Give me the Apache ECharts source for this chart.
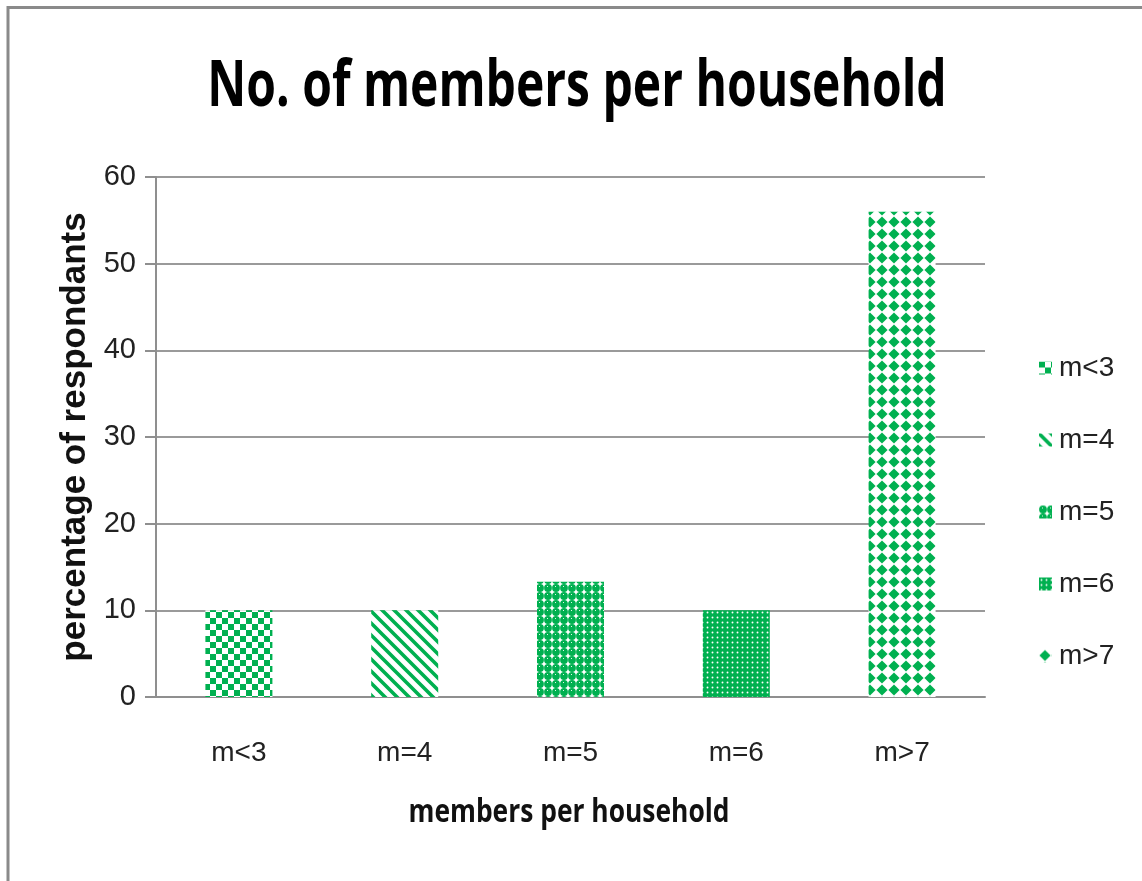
<!DOCTYPE html>
<html>
<head>
<meta charset="utf-8">
<title>No. of members per household</title>
<script src="https://cdn.jsdelivr.net/npm/echarts@6/dist/echarts.min.js"></script>
<style>
  html, body { margin: 0; padding: 0; background: #ffffff; }
  #chart { width: 1142px; height: 881px; }
</style>
</head>
<body>
<div id="chart"></div>
<script>
// Household size groups and share of respondents (%)
const categories = ['m<3', 'm=4', 'm=5', 'm=6', 'm>7'];
const percentages = [10, 10, 13.3, 10, 56];
const yTicks = { min: 0, max: 60, interval: 10 };

const GREEN = '#00b050';

// Small repeating tiles used as bar fills
function tile(size, draw) {
  const c = document.createElement('canvas');
  c.width = size; c.height = size;
  const ctx = c.getContext('2d');
  ctx.fillStyle = '#ffffff';
  ctx.fillRect(0, 0, size, size);
  ctx.fillStyle = GREEN;
  ctx.strokeStyle = GREEN;
  draw(ctx, size);
  return { image: c, repeat: 'repeat' };
}

const patterns = [
  // checkerboard
  tile(12, (ctx) => {
    ctx.fillRect(0, 0, 6, 6);
    ctx.fillRect(6, 6, 6, 6);
  }),
  // wide downward diagonal
  tile(12, (ctx, s) => {
    ctx.lineWidth = 3.6;
    ctx.beginPath();
    ctx.moveTo(-2, -2); ctx.lineTo(s + 2, s + 2);
    ctx.moveTo(-2, s - 2); ctx.lineTo(2, s + 2);
    ctx.moveTo(s - 2, -2); ctx.lineTo(s + 2, 2);
    ctx.stroke();
  }),
  // beads
  tile(8, (ctx) => {
    ctx.beginPath();
    ctx.arc(4, 4, 3.9, 0, Math.PI * 2);
    ctx.fill();
    ctx.fillStyle = '#dff5e8';
    ctx.fillRect(3, 2, 1, 1);
  }),
  // solid with small dots
  tile(5, (ctx) => {
    ctx.fillRect(0, 0, 5, 5);
    ctx.fillStyle = '#ffffff';
    ctx.beginPath();
    ctx.arc(2.5, 2.5, 0.95, 0, Math.PI * 2);
    ctx.fill();
  }),
  // diamonds
  tile(12, (ctx) => {
    ctx.beginPath();
    ctx.moveTo(6, 0.4); ctx.lineTo(11.6, 6); ctx.lineTo(6, 11.6); ctx.lineTo(0.4, 6);
    ctx.closePath();
    ctx.fill();
  })
];

// One series per group so each gets its own legend entry and fill
const series = categories.map((name, i) => ({
  name: name,
  type: 'bar',
  stack: 'households',
  barWidth: 67,
  data: categories.map((_, j) => (j === i ? percentages[i] : null)),
  itemStyle: { color: patterns[i] }
}));

const chart = echarts.init(document.getElementById('chart'), null, { renderer: 'canvas' });

const labelFont = '"Liberation Sans", Arial, sans-serif';
const headFont = '"Open Sans", "Liberation Sans", sans-serif';

chart.setOption({
  backgroundColor: '#ffffff',
  animation: false,
  legend: {
    orient: 'vertical',
    left: 1034,
    top: 349,
    itemWidth: 13,
    itemHeight: 13,
    itemGap: 44,
    icon: 'rect',
    data: categories,
    textStyle: { fontFamily: labelFont, fontSize: 28, color: '#222222', padding: [0, 0, 0, 2] }
  },
  grid: {
    left: 156,
    right: 157,
    top: 177,
    bottom: 184,
    containLabel: false
  },
  xAxis: {
    type: 'category',
    data: categories,
    axisLine: { show: true, lineStyle: { color: '#8f8f8f', width: 2 } },
    axisTick: { show: false },
    axisLabel: {
      margin: 42,
      fontFamily: labelFont,
      fontSize: 28,
      color: '#222222'
    }
  },
  yAxis: {
    type: 'value',
    min: yTicks.min,
    max: yTicks.max,
    interval: yTicks.interval,
    name: 'percentage of respondants',
    nameLocation: 'middle',
    nameGap: 62,
    nameTextStyle: {
      fontFamily: labelFont,
      fontWeight: 'bold',
      fontSize: 35,
      color: '#111111'
    },
    axisLine: { show: true, lineStyle: { color: '#8f8f8f', width: 2 } },
    axisTick: { show: true, length: 11, lineStyle: { color: '#8f8f8f', width: 2 } },
    splitLine: { show: true, lineStyle: { color: '#9a9a9a', width: 2 } },
    axisLabel: {
      margin: 20,
      fontFamily: labelFont,
      fontSize: 29,
      color: '#222222'
    }
  },
  graphic: [
    {
      // chart title, narrowed to a condensed look
      type: 'text',
      x: 577,
      y: 88,
      scaleX: 0.75,
      silent: true,
      style: {
        text: 'No. of members per household',
        fontFamily: headFont,
        fontWeight: 'bold',
        fontSize: 64,
        fill: '#000000',
        align: 'center',
        verticalAlign: 'middle'
      }
    },
    {
      // horizontal axis title
      type: 'text',
      x: 569,
      y: 813,
      scaleX: 0.8,
      silent: true,
      style: {
        text: 'members per household',
        fontFamily: headFont,
        fontWeight: 'bold',
        fontSize: 33,
        fill: '#111111',
        align: 'center',
        verticalAlign: 'middle'
      }
    },
    {
      type: 'rect',
      silent: true,
      z: 100,
      shape: { x: 8, y: 7.5, width: 1300, height: 1000 },
      style: { fill: 'none', stroke: '#8a8a8a', lineWidth: 3 }
    }
  ],
  series: series
});
</script>
</body>
</html>
